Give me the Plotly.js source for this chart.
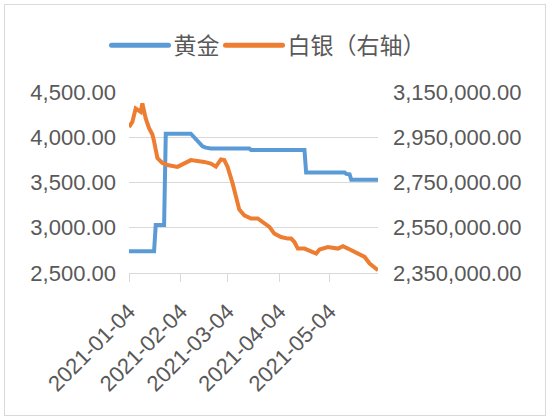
<!DOCTYPE html>
<html>
<head>
<meta charset="utf-8">
<script src="https://cdn.plot.ly/plotly-3.0.1.min.js"></script>
<style>
html,body{margin:0;padding:0;background:#fff;}
#frame{position:absolute;left:4px;top:4px;width:540px;height:410px;border:1px solid #d9d9d9;}
#chart{width:540px;height:410px;}
</style>
</head>
<body>
<div id="frame"><div id="chart"></div></div>
<script>
// Gold (left axis)
var goldDates = ['2021-01-04','2021-01-19','2021-01-20','2021-01-25','2021-01-26','2021-02-10','2021-02-17','2021-02-19','2021-02-22','2021-03-17','2021-03-18','2021-04-19','2021-04-20','2021-05-13','2021-05-14','2021-05-16','2021-05-17','2021-06-02'];
var goldValues = [2740,2740,3030,3030,4040,4040,3900,3885,3875,3875,3860,3860,3610,3610,3595,3590,3530,3530];

// Silver (right axis)
var silverDates = ['2021-01-04','2021-01-06','2021-01-08','2021-01-10','2021-01-11','2021-01-12','2021-01-14','2021-01-16','2021-01-18','2021-01-19','2021-01-21','2021-01-24','2021-01-27','2021-02-02','2021-02-04','2021-02-10','2021-02-18','2021-02-22','2021-02-25','2021-02-28','2021-03-02','2021-03-04','2021-03-07','2021-03-09','2021-03-11','2021-03-14','2021-03-18','2021-03-22','2021-03-26','2021-03-29','2021-04-01','2021-04-05','2021-04-09','2021-04-11','2021-04-13','2021-04-15','2021-04-19','2021-04-23','2021-04-26','2021-04-28','2021-05-03','2021-05-09','2021-05-12','2021-05-15','2021-05-19','2021-05-22','2021-05-25','2021-05-28','2021-05-31','2021-06-02'];
var silverValues = [2995000,3018000,3077000,3070000,3062000,3100000,3033000,2990000,2962000,2932000,2858000,2836000,2827000,2819000,2827000,2849000,2841000,2834000,2820000,2852000,2849000,2819000,2746000,2694000,2630000,2605000,2591000,2591000,2569000,2554000,2524000,2509000,2502000,2502000,2487000,2458000,2458000,2443000,2436000,2454000,2465000,2458000,2468000,2458000,2443000,2436000,2421000,2392000,2377000,2362000];

var tickDates = ['2021-01-04','2021-02-04','2021-03-04','2021-04-04','2021-05-04'];
var tickLabels = ['2021-01-04','2021-02-04','2021-03-04','2021-04-04','2021-05-04'];
var seriesNames = ['黄金','白银（右轴）'];

var fontFam = 'Liberation Sans, Arial, Noto Sans CJK SC, sans-serif';
var grey = '#595959';

var traces = [
  {x: goldDates, y: goldValues, name: seriesNames[0], type: 'scatter', mode: 'lines',
   line: {color: '#5B9BD5', width: 4}, yaxis: 'y'},
  {x: silverDates, y: silverValues, name: seriesNames[1], type: 'scatter', mode: 'lines',
   line: {color: '#ED7D31', width: 4}, yaxis: 'y2'}
];

var layout = {
  width: 540, height: 410,
  margin: {l: 123.5, r: 167, t: 86.7, b: 142.3, autoexpand: false},
  paper_bgcolor: '#fff', plot_bgcolor: '#fff',
  font: {family: fontFam, size: 22, color: grey},
  showlegend: true,
  legend: {orientation: 'h', xref: 'paper', yref: 'paper', x: -0.12, xanchor: 'left',
           y: 1.258, yanchor: 'middle', bgcolor: 'rgba(0,0,0,0)',
           font: {family: 'Noto Sans CJK SC, sans-serif', size: 23, color: grey},
           tracegroupgap: 0, itemwidth: 30},
  xaxis: {type: 'date', range: ['2021-01-04','2021-06-02'], tickmode: 'array',
          tickvals: tickDates, ticktext: tickLabels, tickangle: -45,
          tickfont: {size: 22, color: grey}, showgrid: false, zeroline: false,
          showline: true, linecolor: '#d9d9d9', linewidth: 1,
          ticks: 'outside', ticklen: 8, tickcolor: '#d9d9d9', ticklabelstandoff: 8},
  yaxis: {range: [2500, 4500], dtick: 500, tick0: 2500, tickformat: ',.2f',
          showgrid: true, gridcolor: '#d9d9d9', gridwidth: 1, zeroline: false,
          showline: false, ticks: '', ticklabelstandoff: 12, tickfont: {size: 22, color: grey}},
  yaxis2: {range: [2350000, 3150000], dtick: 200000, tick0: 2350000, tickformat: ',.2f',
           overlaying: 'y', side: 'right', showgrid: false, zeroline: false,
           showline: false, ticks: '', ticklabelstandoff: 14, tickfont: {size: 22, color: grey}}
};

Plotly.newPlot('chart', traces, layout, {displayModeBar: false, staticPlot: true}).then(function(gd){
  // Excel-style legend: longer rounded line keys
  var leg = gd.querySelector('.legend');
  if (!leg) return;
  var sb = leg.querySelector('.scrollbox');
  if (sb) sb.removeAttribute('clip-path');
  var items = leg.querySelectorAll('.traces');
  var keyLen = 57, textGap = 5, entryGap = 6, cx = 0;
  items.forEach(function(t){
    var p = t.querySelector('path.js-line');
    var tx = t.querySelector('text.legendtext');
    if (!p || !tx) return;
    p.setAttribute('d', 'M0,0h' + keyLen);
    p.style.strokeLinecap = 'round';
    p.style.strokeWidth = '5px';
    tx.setAttribute('x', keyLen + textGap);
    var m = /translate\(([-\d.]+)[ ,]*([-\d.]*)\)/.exec(t.getAttribute('transform') || '');
    var ty = m && m[2] ? m[2] : 0;
    t.setAttribute('transform', 'translate(' + cx + ',' + ty + ')');
    cx += keyLen + textGap + tx.getComputedTextLength() + entryGap;
  });
  // place first key start at x=104 within chart div
  var first = items[0] && items[0].querySelector('path.js-line');
  if (first) {
    var chartBox = gd.getBoundingClientRect();
    var b = first.getBoundingClientRect();
    var dx = 104 - (b.left - chartBox.left) + 2.5;
    var lm = /translate\(([-\d.]+)[ ,]*([-\d.]*)\)/.exec(leg.getAttribute('transform') || '');
    if (lm) leg.setAttribute('transform', 'translate(' + (parseFloat(lm[1]) + dx) + ',' + (lm[2] || 0) + ')');
  }
});
</script>
</body>
</html>
